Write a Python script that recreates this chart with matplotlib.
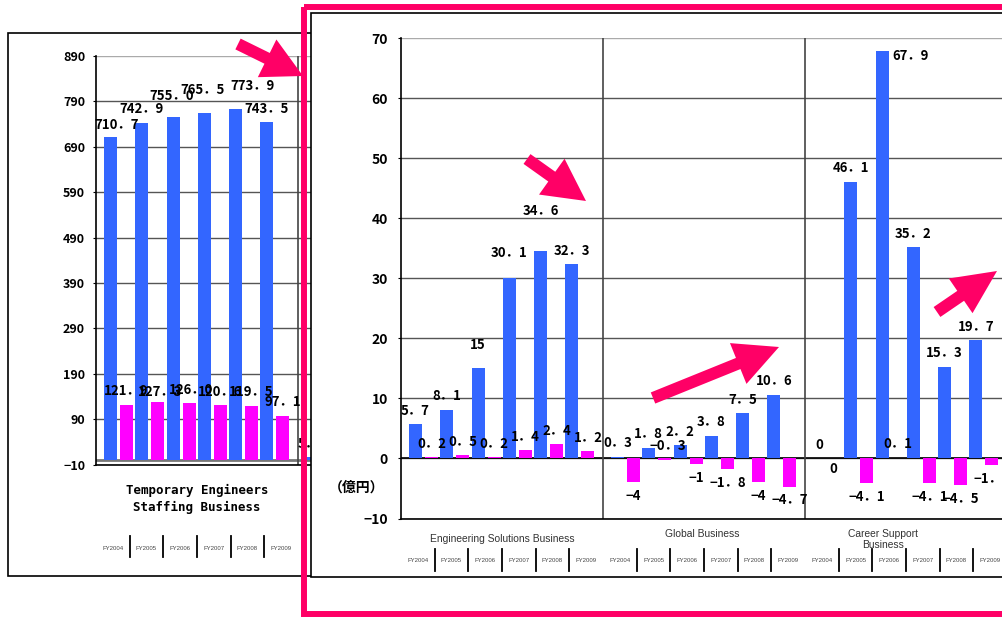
import numpy as np
import matplotlib.pyplot as plt
from matplotlib.patches import Rectangle, FancyArrow

plt.rcParams['font.family'] = ['Noto Sans CJK JP', 'DejaVu Sans']

years = ["FY2004", "FY2005", "FY2006", "FY2007", "FY2008", "FY2009"]

# left chart (Temporary Engineers Staffing Business), scale -10..890
staff_blue = [710.7, 742.9, 755.0, 765.5, 773.9, 743.5]
staff_pink = [121.9, 127.3, 126.0, 120.6, 119.5, 97.1]

# right chart, 億円
eng_blue = [5.7, 8.1, 15, 30.1, 34.6, 32.3]
eng_pink = [0.2, 0.5, 0.2, 1.4, 2.4, 1.2]
glob_blue = [0.3, 1.8, 2.2, 3.8, 7.5, 10.6]
glob_pink = [-4, -0.3, -1, -1.8, -4, -4.7]
career_blue = [0, 46.1, 67.9, 35.2, 15.3, 19.7]
career_pink = [0, -4.1, 0.1, -4.1, -4.5, -1.1]

left_group = "Temporary Engineers\nStaffing Business"
right_groups = ["Engineering Solutions Business", "Global Business", "Career Support\nBusiness"]
left_yticks = list(range(-10, 891, 100))
right_yticks = list(range(-10, 71, 10))
unit_label = "（億円）"

BLUE = '#3366FF'
PINK = '#FF00FF'
RED = '#FF0066'
W, H = 1003, 617
SLOT = 31.3          # px per year slot
GW = 202 / SLOT      # group width in slots
BOFF, POFF, BW = 0.463, 0.974, 0.415

fig = plt.figure(figsize=(W / 100, H / 100), dpi=100)


def add_ax(x0, y0, x1, y1, **kw):
    return fig.add_axes([x0 / W, 1 - y1 / H, (x1 - x0) / W, (y1 - y0) / H], **kw)


def pix_ax(z):
    a = add_ax(0, 0, W, H, zorder=z)
    a.set_xlim(0, W)
    a.set_ylim(H, 0)
    a.axis('off')
    a.patch.set_alpha(0)
    return a


def lbl(v, fmt):
    return fmt(v).replace('.', '．').replace('-', '−')


def bars(ax, g, blue, pink, fmt, nudges, size):
    xs = g * GW + np.arange(len(blue))
    ax.bar(xs + BOFF, blue, BW, color=BLUE, zorder=3)
    ax.bar(xs + POFF, pink, BW, color=PINK, zorder=3)
    for key, off, vals in (("b", BOFF, blue), ("p", POFF, pink)):
        for i, v in enumerate(vals):
            dx, dy = nudges.get((g, key, i), (0, 13.5 if v >= 0 else -13.5))
            ax.annotate(lbl(v, fmt), (xs[i] + off, v), xytext=(dx * 0.72, dy * 0.72),
                        textcoords='offset points', ha='center', va='center',
                        fontsize=size, fontweight='bold', zorder=4)


def fy_row(ax, g, below_px, sep_px, h_px):
    for k, y in enumerate(years):
        cx = g * GW + (k + 0.5) * GW / 6
        ax.annotate(y, (cx, 0), xycoords=('data', 'axes fraction'),
                    xytext=(0, -below_px * 0.72), textcoords='offset points',
                    ha='center', va='center', fontsize=4.3, color='#444',
                    family='Liberation Sans')
        if k:
            sx = g * GW + k * GW / 6
            ax.plot([sx, sx], [-sep_px[0] / h_px, -sep_px[1] / h_px], color='k', lw=1.3,
                    transform=ax.get_xaxis_transform(), clip_on=False)


def style(ax, ticks, size, pad):
    ax.set_yticks(ticks)
    ax.set_xticks([])
    ax.tick_params(axis='y', length=2.5, pad=pad, labelsize=size)
    for t in ax.get_yticklabels():
        t.set_fontweight('bold')
    ax.grid(axis='y', color='#555', lw=1.0, zorder=1)
    ax.get_ygridlines()[-1].set_color('#aaa')
    ax.set_axisbelow(True)
    for s in ('top', 'right'):
        ax.spines[s].set_visible(False)
    for s in ('left', 'bottom'):
        ax.spines[s].set_color('k')
        ax.spines[s].set_linewidth(1.2)
    ax.patch.set_alpha(0)


# background: left panel box
bg = pix_ax(0)
bg.add_patch(Rectangle((8, 33), 420, 543, fill=False, ec='k', lw=1.2))

# left chart
axL = add_ax(96, 56, 500, 464.5, zorder=1)
axL.set_xlim(0, 404 / SLOT)
axL.set_ylim(-10, 890)
style(axL, left_yticks, 9, 5.4)
axL.axhline(0, color='#777', lw=2, zorder=2)
axL.axvline(GW, color='#444', lw=1.2, zorder=2)
left_nudges = {(0, 'b', 0): (6.5, 12), (0, 'b', 2): (-1, 21), (0, 'b', 3): (-2, 23),
               (0, 'b', 4): (17, 23), (0, 'p', 1): (2.5, 10), (0, 'p', 2): (1.5, 13)}
bars(axL, 0, staff_blue, staff_pink, lambda v: f"{v:.1f}", left_nudges, 9.5)
bars(axL, 1, eng_blue, eng_pink, lambda v: f"{v:g}", {}, 9.5)
axL.annotate(left_group, (GW / 2, 0), xycoords=('data', 'axes fraction'),
             xytext=(0, -34.5 * 0.72), textcoords='offset points', ha='center', va='center',
             family='DejaVu Sans Mono', fontweight='bold', fontsize=9, linespacing=1.45)
fy_row(axL, 0, 83.5, (71.5, 92.5), 408.5)

# right panel background
mid = pix_ax(2)
mid.add_patch(Rectangle((311, 12.5), 720, 564.5, fc='white', ec='k', lw=1.2))

# right chart
axR = add_ax(401, 38, 1007, 518.5, zorder=3)
axR.set_xlim(0, 3 * GW)
axR.set_ylim(-10, 70)
style(axR, right_yticks, 10, 6.9)
axR.axhline(0, color='k', lw=1.2, zorder=2)
for g in (1, 2):
    axR.axvline(g * GW, color='#444', lw=1.2, zorder=2)
right_nudges = {(0, 'b', 2): (0, 23), (0, 'b', 3): (0, 25), (0, 'b', 4): (0, 40),
                (1, 'p', 1): (3, 14), (2, 'p', 0): (-2, -11), (2, 'b', 2): (28, -5)}
for g, (b, p) in enumerate([(eng_blue, eng_pink), (glob_blue, glob_pink),
                            (career_blue, career_pink)]):
    bars(axR, g, b, p, lambda v: f"{v:g}", right_nudges, 9.5)
    fy_row(axR, g, 42.5, (30.5, 52.5), 480.5)
grp_pos = [(101, 20.5), (99.5, 15.5), (78, 21)]
for g, name in enumerate(right_groups):
    dx, dy = grp_pos[g]
    axR.annotate(name, (g * GW + dx / SLOT, 0), xycoords=('data', 'axes fraction'),
                 xytext=(0, -dy * 0.72), textcoords='offset points', ha='center',
                 va='center', family='Liberation Sans', fontsize=7.4, color='#333',
                 linespacing=1.05)

# overlay: unit label, arrows, frame
top = pix_ax(4)
top.text(357, 488, unit_label, ha='center', va='center', fontsize=10, fontweight='bold')
for (x0, y0), (x1, y1), hw, hl in [((238, 44), (303, 76), 42, 40),
                                   ((527, 159), (586, 201), 44, 42),
                                   ((653, 398), (779, 347), 44, 44),
                                   ((937, 312), (997, 271), 42, 44)]:
    top.add_patch(FancyArrow(x0, y0, x1 - x0, y1 - y0, width=12, head_width=hw,
                             head_length=hl, length_includes_head=True, color=RED, lw=0))
top.add_patch(Rectangle((304, 7), 720, 606.5, fill=False, ec=RED, lw=4.3))

fig.savefig('out.png', dpi=100)
